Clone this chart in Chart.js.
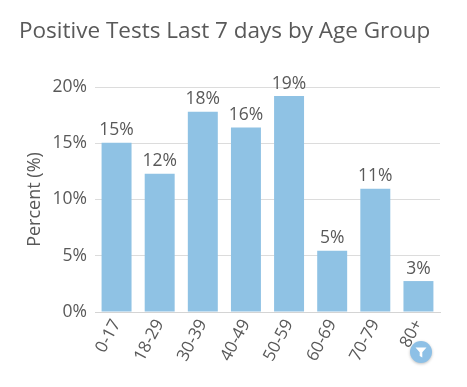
<!DOCTYPE html>
<html>
<head>
<meta charset="utf-8">
<script src="https://cdn.jsdelivr.net/npm/chart.js@4/dist/chart.umd.min.js"></script>
<style>
  html, body { margin: 0; padding: 0; background: #fff; }
  #wrap { position: relative; width: 467px; height: 387px; overflow: hidden; }
  #filterBtn { position: absolute; left: 410px; top: 341px; width: 22px; height: 22px; border-radius: 50%;
    background: #8dc0e6; box-shadow: 0 1px 3px rgba(0,0,0,0.25); }
  #filterBtn svg { position: absolute; left: 5px; top: 6px; }
</style>
</head>
<body>
<div id="wrap">
  <canvas id="ageChart" width="467" height="387"></canvas>
  <div id="filterBtn"><svg width="12" height="11" viewBox="0 0 12 11"><path d="M0.5 0.5H11.5L7.3 5.3V10.5L4.7 9V5.3Z" fill="#fff"/></svg></div>
</div>
<script>
const categories = ['0-17', '18-29', '30-39', '40-49', '50-59', '60-69', '70-79', '80+'];
const percentValues = [15.05, 12.3, 17.8, 16.4, 19.2, 5.45, 10.95, 2.75];
const barLabels = ['15%', '12%', '18%', '16%', '19%', '5%', '11%', '3%'];
const yTicks = [0, 5, 10, 15, 20];

const textColor = '#595959';
const fontName = '"Open Sans", sans-serif';

// Percent labels over the bars
const barLabelPlugin = {
    id: 'barLabelPlugin',
    afterDatasetsDraw: function(chart) {
        const ctx = chart.ctx;
        ctx.save();
        ctx.font = '17.5px ' + fontName;
        ctx.fillStyle = textColor;
        ctx.textAlign = 'center';
        ctx.textBaseline = 'alphabetic';
        chart.getDatasetMeta(0).data.forEach(function(bar, i) {
            ctx.fillText(barLabels[i], bar.x, bar.y - 7.5);
        });
        ctx.restore();
    }
};

new Chart(document.getElementById('ageChart'), {
    type: 'bar',
    data: {
        labels: categories,
        datasets: [{
            data: percentValues,
            backgroundColor: '#8fc2e4',
            categoryPercentage: 1,
            barPercentage: 0.695
        }]
    },
    options: {
        responsive: false,
        animation: false,
        layout: { padding: { left: 19, right: 27, top: 13, bottom: 0 } },
        plugins: {
            legend: { display: false },
            tooltip: { enabled: false },
            title: {
                display: true,
                text: 'Positive Tests Last 7 days by Age Group',
                align: 'start',
                color: textColor,
                font: { family: fontName, size: 22.5, weight: 'normal' },
                padding: { top: 5, bottom: 42 }
            }
        },
        scales: {
            x: {
                grid: { display: false, drawTicks: false },
                border: { color: '#d4d4d4' },
                ticks: {
                    color: textColor,
                    font: { family: fontName, size: 17 },
                    maxRotation: 62,
                    minRotation: 62,
                    padding: 4
                },
                afterFit: function(scale) { scale.height = 75; }
            },
            y: {
                min: 0,
                max: 20,
                afterBuildTicks: function(scale) {
                    scale.ticks = yTicks.map(function(v) { return { value: v }; });
                },
                grid: { color: '#dcdcdc', drawTicks: false },
                border: { display: false },
                ticks: {
                    color: textColor,
                    font: { family: fontName, size: 17.5 },
                    padding: 8,
                    callback: function(v) { return v + '%'; }
                },
                title: {
                    display: true,
                    text: 'Percent (%)',
                    color: textColor,
                    font: { family: fontName, size: 18 },
                    padding: { top: 5, bottom: 0 }
                },
                afterFit: function(scale) { scale.width = 76; }
            }
        }
    },
    plugins: [barLabelPlugin]
});
</script>
</body>
</html>
